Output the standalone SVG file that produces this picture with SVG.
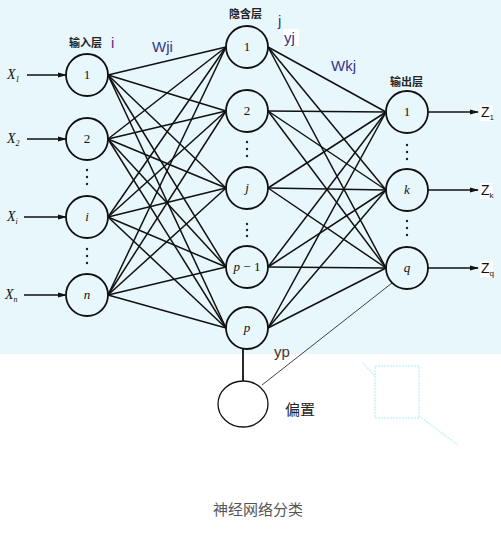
<svg xmlns="http://www.w3.org/2000/svg" width="501" height="545" viewBox="0 0 501 545">
<defs>
<style>
.node circle{fill:none;stroke:#111;stroke-width:1.8}
.nl{font-family:"Liberation Serif",serif;font-size:13px;fill:#111;text-anchor:middle}
.it{font-style:italic}
.conn line{stroke:#111;stroke-width:1.5}
.arr{stroke:#111;stroke-width:1.6;marker-end:url(#ah)}
.dot{fill:#222}
.cn{font-family:"Liberation Sans","Noto Sans CJK SC",sans-serif;font-size:11px;font-weight:bold;fill:#222}
.lbl{font-family:"Liberation Sans",sans-serif;font-size:15px;fill:#35358a}
.xl{font-family:"Liberation Serif",serif;font-style:italic;font-size:14px;fill:#111}
.sub{font-size:8px}
.art{stroke:#c9f4f8;stroke-width:1.5;fill:none;stroke-dasharray:2 1}
</style>
<marker id="ah" markerWidth="9" markerHeight="6" refX="8" refY="3" orient="auto" markerUnits="userSpaceOnUse">
<path d="M0,0.5 L9,3 L0,5.5 Z" fill="#111"/>
</marker>
</defs>
<rect x="0" y="0" width="501" height="354" fill="#e8f7fb"/>

<g id="connectors" class="conn">
<line x1="108" y1="75" x2="226" y2="47"/><line x1="108" y1="75" x2="226" y2="111"/><line x1="108" y1="75" x2="226" y2="188"/><line x1="108" y1="75" x2="226" y2="267"/><line x1="108" y1="75" x2="226" y2="328"/>
<line x1="108" y1="139" x2="226" y2="47"/><line x1="108" y1="139" x2="226" y2="111"/><line x1="108" y1="139" x2="226" y2="188"/><line x1="108" y1="139" x2="226" y2="267"/><line x1="108" y1="139" x2="226" y2="328"/>
<line x1="108" y1="217" x2="226" y2="47"/><line x1="108" y1="217" x2="226" y2="111"/><line x1="108" y1="217" x2="226" y2="188"/><line x1="108" y1="217" x2="226" y2="267"/><line x1="108" y1="217" x2="226" y2="328"/>
<line x1="108" y1="295" x2="226" y2="47"/><line x1="108" y1="295" x2="226" y2="111"/><line x1="108" y1="295" x2="226" y2="188"/><line x1="108" y1="295" x2="226" y2="267"/><line x1="108" y1="295" x2="226" y2="328"/>
<line x1="268" y1="47" x2="386" y2="112"/><line x1="268" y1="47" x2="386" y2="190"/><line x1="268" y1="47" x2="386" y2="268"/>
<line x1="268" y1="111" x2="386" y2="112"/><line x1="268" y1="111" x2="386" y2="190"/><line x1="268" y1="111" x2="386" y2="268"/>
<line x1="268" y1="188" x2="386" y2="112"/><line x1="268" y1="188" x2="386" y2="190"/><line x1="268" y1="188" x2="386" y2="268"/>
<line x1="268" y1="267" x2="386" y2="112"/><line x1="268" y1="267" x2="386" y2="190"/><line x1="268" y1="267" x2="386" y2="268"/>
<line x1="268" y1="328" x2="386" y2="112"/><line x1="268" y1="328" x2="386" y2="190"/><line x1="268" y1="328" x2="386" y2="268"/>
<line class="arr" x1="27" y1="75" x2="66" y2="75"/>
<line class="arr" x1="27" y1="139" x2="66" y2="139"/>
<line class="arr" x1="24" y1="217" x2="66" y2="217"/>
<line class="arr" x1="24" y1="295" x2="66" y2="295"/>
<line class="arr" x1="428" y1="112" x2="478" y2="112"/>
<line class="arr" x1="428" y1="190" x2="478" y2="190"/>
<line class="arr" x1="428" y1="268" x2="478" y2="268"/>
<line x1="243" y1="349" x2="243" y2="381" style="stroke-width:1.8"/>
<line x1="262" y1="385" x2="392" y2="283" style="stroke-width:0.8"/>
</g>

<g id="input-layer">
<g id="in1" class="node"><circle cx="87" cy="75" r="21"/><text class="nl" x="87" y="79">1</text></g>
<g id="in2" class="node"><circle cx="87" cy="139" r="21"/><text class="nl" x="87" y="143">2</text></g>
<g id="ini" class="node"><circle cx="87" cy="217" r="21"/><text class="nl it" x="87" y="221">i</text></g>
<g id="inn" class="node"><circle cx="87" cy="295" r="21"/><text class="nl it" x="87" y="299">n</text></g>
<circle class="dot" cx="87" cy="170" r="1.2"/><circle class="dot" cx="87" cy="177" r="1.2"/><circle class="dot" cx="87" cy="184" r="1.2"/>
<circle class="dot" cx="87" cy="249" r="1.2"/><circle class="dot" cx="87" cy="256" r="1.2"/><circle class="dot" cx="87" cy="263" r="1.2"/>
<text class="xl" x="7" y="79">X<tspan class="sub" dy="3">1</tspan></text>
<text class="xl" x="7" y="143">X<tspan class="sub" dy="3">2</tspan></text>
<text class="xl" x="7" y="221">X<tspan class="sub" dy="3">i</tspan></text>
<text class="xl" x="5" y="299">X<tspan class="sub" dy="3">n</tspan></text>
<text class="cn" x="69" y="47">输入层</text>
<text class="lbl" x="111" y="48" style="fill:#5a2a8a">i</text>
</g>

<g id="hidden-layer">
<g id="h1" class="node"><circle cx="247" cy="47" r="21"/><text class="nl" x="247" y="51">1</text></g>
<g id="h2" class="node"><circle cx="247" cy="111" r="21"/><text class="nl" x="247" y="115">2</text></g>
<g id="hj" class="node"><circle cx="247" cy="188" r="21"/><text class="nl it" x="247" y="192">j</text></g>
<g id="hp1" class="node"><circle cx="247" cy="267" r="21"/><text class="nl" x="247" y="271"><tspan class="it">p</tspan> − 1</text></g>
<g id="hp" class="node"><circle cx="247" cy="328" r="21"/><text class="nl it" x="247" y="332">p</text></g>
<circle class="dot" cx="247" cy="142" r="1.2"/><circle class="dot" cx="247" cy="149" r="1.2"/><circle class="dot" cx="247" cy="156" r="1.2"/>
<circle class="dot" cx="247" cy="224" r="1.2"/><circle class="dot" cx="247" cy="230" r="1.2"/><circle class="dot" cx="247" cy="236" r="1.2"/>
<text class="cn" x="229" y="18">隐含层</text>
<text class="lbl" x="278" y="26">j</text>
<rect x="283" y="29" width="16" height="17" fill="#fff"/>
<text class="lbl" x="284" y="43">yj</text>
</g>

<g id="output-layer">
<g id="o1" class="node"><circle cx="407" cy="112" r="21"/><text class="nl" x="407" y="116">1</text></g>
<g id="ok" class="node"><circle cx="407" cy="190" r="21"/><text class="nl it" x="407" y="194">k</text></g>
<g id="oq" class="node"><circle cx="407" cy="268" r="21"/><text class="nl it" x="407" y="272">q</text></g>
<circle class="dot" cx="407" cy="145" r="1.2"/><circle class="dot" cx="407" cy="152" r="1.2"/><circle class="dot" cx="407" cy="159" r="1.2"/>
<circle class="dot" cx="407" cy="221" r="1.2"/><circle class="dot" cx="407" cy="228" r="1.2"/><circle class="dot" cx="407" cy="235" r="1.2"/>
<text class="cn" x="390" y="86">输出层</text>
<rect x="480" y="105" width="13" height="16" fill="#fff"/>
<rect x="480" y="183" width="13" height="16" fill="#fff"/>
<rect x="480" y="261" width="13" height="16" fill="#fff"/>
<text class="xl" x="481" y="117" style="font-style:normal;font-family:'Liberation Sans',sans-serif">Z<tspan class="sub" dy="3">1</tspan></text>
<text class="xl" x="481" y="195" style="font-style:normal;font-family:'Liberation Sans',sans-serif">Z<tspan class="sub" dy="3">k</tspan></text>
<text class="xl" x="481" y="273" style="font-style:normal;font-family:'Liberation Sans',sans-serif">Z<tspan class="sub" dy="3">q</tspan></text>
</g>

<g id="weights">
<text class="lbl" x="152" y="52">Wji</text>
<text class="lbl" x="331" y="71">Wkj</text>
</g>

<g id="bias" class="node">
<ellipse cx="243" cy="404" rx="25" ry="23" fill="#fff" stroke="#111" stroke-width="1.3"/>
<text x="274" y="357" font-family="Liberation Sans,sans-serif" font-size="15" fill="#4a3030">yp</text>
<text x="285" y="415" font-family="Liberation Sans,'Noto Sans CJK SC',sans-serif" font-size="15" fill="#222">偏置</text>
</g>

<g id="artifact">
<rect class="art" x="375" y="366" width="44" height="52"/>
<line class="art" x1="363" y1="363" x2="375" y2="376"/>
<line class="art" x1="419" y1="416" x2="458" y2="445"/>
</g>

<text x="258" y="515" text-anchor="middle" font-family="'Noto Sans CJK SC',sans-serif" font-size="15" fill="#555">神经网络分类</text>
</svg>
